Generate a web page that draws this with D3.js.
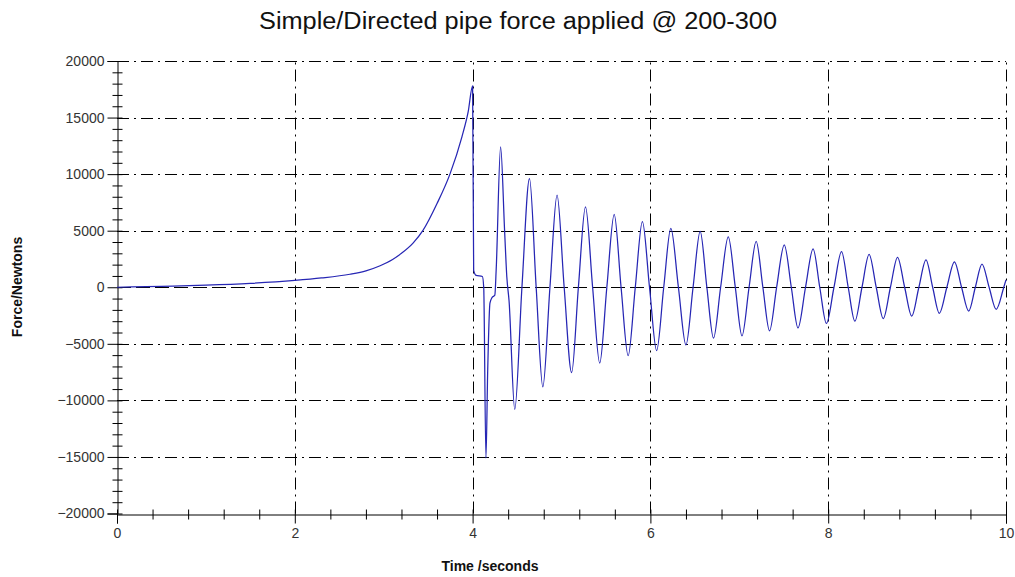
<!DOCTYPE html>
<html><head><meta charset="utf-8">
<script src="https://cdn.jsdelivr.net/npm/d3@7"></script>
<style>
html,body{margin:0;padding:0;background:#fff;}
text{font-family:"Liberation Sans",Arial,sans-serif;}
</style></head>
<body>
<svg id="chart" width="1015" height="577"></svg>
<script>
const titleText = "Simple/Directed pipe force applied @ 200-300";
const xTitle = "Time /seconds";
const yTitle = "Force/Newtons";

const timeValues = [
  0, 0.5, 1.0, 1.5, 2.0, 2.3, 2.62, 2.8, 2.96, 3.1, 3.2, 3.33, 3.44, 3.6, 3.745, 3.88, 3.95, 4.0,
  4.012, 4.04, 4.11, 4.125, 4.15, 4.17, 4.195, 4.22, 4.25, 4.265, 4.315, 4.36, 4.385, 4.41, 4.474,
  4.555, 4.64, 4.715, 4.79, 4.87, 4.95, 5.03, 5.114, 5.19, 5.27, 5.35, 5.43, 5.51, 5.593, 5.67, 5.75,
  5.83, 5.91, 5.99, 6.07, 6.15, 6.23, 6.315, 6.4, 6.48, 6.56, 6.635, 6.71, 6.79, 6.876, 6.955, 7.03,
  7.11, 7.19, 7.265, 7.34, 7.42, 7.506, 7.585, 7.66, 7.745, 7.83, 7.905, 7.98, 8.065, 8.15, 8.225, 8.3,
  8.38, 8.46, 8.54, 8.62, 8.70, 8.78, 8.86, 8.94, 9.02, 9.1, 9.175, 9.25, 9.335, 9.42, 9.5, 9.58,
  9.655, 9.73, 9.81, 9.89, 9.975, 10.0
];
const forceValues = [
  0, 80, 180, 340, 600, 820, 1150, 1450, 1900, 2450, 3000, 3900, 5000, 7400, 10000, 13300, 15500, 17800,
  1500, 1050, 950, 0, -15100, -7300, -1400, -900, -700, 1500, 12400, 5000, 900, -1200, -10800,
  0, 9600, 0, -8800, 0, 8150, 0, -7550, 0, 7100, 0, -6700, 0, 6450, 0, -6050,
  0, 5800, 0, -5600, 0, 5200, 0, -5100, 0, 4950, 0, -4500, 0, 4450, 0, -4300,
  0, 4050, 0, -3850, 0, 3750, 0, -3600, 0, 3400, 0, -3200, 0, 3150, 0, -3000,
  0, 2900, 0, -2770, 0, 2650, 0, -2550, 0, 2420, 0, -2300, 0, 2250, 0, -2100,
  0, 2050, 0, -1950, 0, 650
];

const xMajorTicks = [0, 2, 4, 6, 8, 10];
const xMinorTicks = [0.4,0.8,1.2,1.6,2.4,2.8,3.2,3.6,4.4,4.8,5.2,5.6,6.4,6.8,7.2,7.6,8.4,8.8,9.2,9.6];
const yMajorTicks = [-20000, -15000, -10000, -5000, 0, 5000, 10000, 15000, 20000];
const yMinorTicks = d3.range(-20000, 20001, 1000).filter(v => v % 5000 !== 0);

const svg = d3.select("#chart");
const pLeft = 117, pRight = 1006, pTop = 61, pBottom = 513.5;
const x = d3.scaleLinear().domain([0, 10]).range([pLeft, pRight]);
const y = d3.scaleLinear().domain([-20000, 20000]).range([pBottom, pTop]);

// grid
const grid = svg.append("g").attr("stroke", "#000").attr("stroke-width", 1).attr("fill", "none");
yMajorTicks.filter(v => v !== -20000).forEach(v => {
  grid.append("line")
    .attr("x1", pLeft).attr("x2", pRight)
    .attr("y1", Math.round(y(v)) + 0.5).attr("y2", Math.round(y(v)) + 0.5)
    .attr("stroke-dasharray", v === 0 ? "14,5" : "12,5,2,5");
});
xMajorTicks.filter(v => v !== 0).forEach(v => {
  grid.append("line")
    .attr("y1", pBottom).attr("y2", pTop)
    .attr("x1", Math.round(x(v)) + 0.5).attr("x2", Math.round(x(v)) + 0.5)
    .attr("stroke-dasharray", "12,5,2,5");
});

// axes
const xAxisG = svg.append("g").attr("transform", `translate(0,${Math.round(pBottom) + 0.5})`);
xAxisG.call(d3.axisBottom(x).tickValues(xMajorTicks).tickSize(9).tickPadding(5).tickFormat(d3.format("d")));
xAxisG.selectAll(".tick line").attr("y1", -5);
const xMinorG = svg.append("g").attr("transform", `translate(0,${Math.round(pBottom) + 0.5})`);
xMinorG.call(d3.axisBottom(x).tickValues(xMinorTicks).tickSize(5).tickFormat(""));
xMinorG.selectAll(".tick line").attr("y1", -5);
xMinorG.select(".domain").remove();

const yAxisG = svg.append("g").attr("transform", `translate(${Math.round(pLeft) + 0.5},0)`);
yAxisG.call(d3.axisLeft(y).tickValues(yMajorTicks).tickSize(10).tickPadding(3).tickFormat(d3.format("d")));
yAxisG.selectAll(".tick line").attr("x1", 5);
const yMinorG = svg.append("g").attr("transform", `translate(${Math.round(pLeft) + 0.5},0)`);
yMinorG.call(d3.axisLeft(y).tickValues(yMinorTicks).tickSize(5).tickFormat(""));
yMinorG.selectAll(".tick line").attr("x1", 5);
yMinorG.select(".domain").remove();

svg.selectAll(".domain").attr("stroke", "#000");
svg.selectAll(".tick line").attr("stroke", "#000");
svg.selectAll(".tick text").attr("font-size", 14).attr("fill", "#333")
  .attr("font-family", "'Liberation Sans', Arial, sans-serif");

// data line
const data = timeValues.map((t, i) => ({t, f: forceValues[i]}));
const line = d3.line().x(d => x(d.t)).y(d => y(d.f)).curve(d3.curveMonotoneX);
svg.append("path").datum(data)
  .attr("d", line).attr("fill", "none").attr("stroke", "#2626b4").attr("stroke-width", 1.25);

// titles
svg.append("text").attr("x", 518).attr("y", 29).attr("text-anchor", "middle")
  .attr("font-size", 23).attr("fill", "#111")
  .attr("textLength", 518).attr("lengthAdjust", "spacingAndGlyphs").text(titleText);
svg.append("text").attr("x", 490).attr("y", 571).attr("text-anchor", "middle")
  .attr("font-size", 14).attr("font-weight", "bold").attr("fill", "#111").text(xTitle);
svg.append("text").attr("transform", "translate(22,287) rotate(-90)").attr("text-anchor", "middle")
  .attr("font-size", 14).attr("font-weight", "bold").attr("fill", "#111").text(yTitle);
</script>
</body></html>
